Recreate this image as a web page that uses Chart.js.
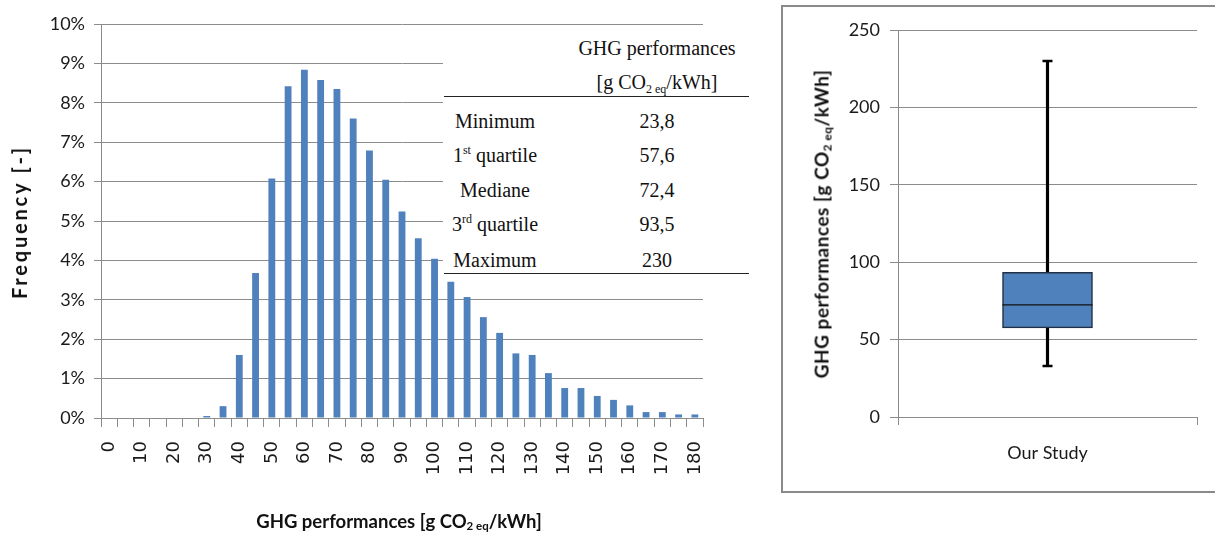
<!DOCTYPE html>
<html>
<head>
<meta charset="utf-8">
<script src="https://cdn.jsdelivr.net/npm/chart.js@4.4.1/dist/chart.umd.min.js"></script>
<style>
  body { margin: 0; background: #fff; width: 1215px; height: 533px; overflow: hidden; position: relative; }
  canvas { position: absolute; }
  .title { position: absolute; white-space: nowrap; color: #111; font-family: Lato, sans-serif; font-weight: bold; transform: translate(-50%, -50%); }
  .title sub { font-size: 62%; vertical-align: -0.25em; }
  .rot { transform: translate(-50%, -50%) rotate(-90deg); }
  #frame { position: absolute; left: 781px; top: 5px; width: 460px; height: 484px; border: 2px solid #8a8a8a; }
  #table { position: absolute; left: 443px; top: 32px; width: 307px; height: 244px; background: #fff; }
  .cell { position: absolute; white-space: nowrap; font-family: 'Liberation Serif', serif; font-size: 20px; color: #111; transform: translate(-50%, -50%); }
  .cell sub { font-size: 60%; vertical-align: -0.3em; }
  .cell sup { font-size: 60%; vertical-align: 0.6em; line-height: 0; }
  .rule { position: absolute; height: 0; border-top: 1.5px solid #222; }
</style>
</head>
<body>
<canvas id="histChart" width="720" height="533" style="left:0;top:0"></canvas>
<div id="frame"></div>
<canvas id="boxChart" width="431" height="484" style="left:782px;top:7px"></canvas>
<div id="table"></div>
<div class="title rot" style="left:19px;top:222px;font-size:20px;letter-spacing:2.8px">Frequency [-]</div>
<div class="title" style="left:399px;top:521px;font-size:18.5px">GHG performances [g CO<sub>2 eq</sub>/kWh]</div>
<div class="title rot" style="left:822px;top:224px;font-size:19px;letter-spacing:0.5px">GHG performances [g CO<sub>2 eq</sub>/kWh]</div>
<script>
// histogram data (bins of 5 g CO2 eq/kWh), frequency in %
const categories = ['0', '5', '10', '15', '20', '25', '30', '35', '40', '45', '50', '55', '60', '65', '70', '75', '80', '85',
    '90', '95', '100', '105', '110', '115', '120', '125', '130', '135', '140', '145', '150', '155', '160', '165', '170', '175', '180'];
const frequency = [0, 0, 0, 0, 0, 0, 0.05, 0.30, 1.60, 3.68, 6.08, 8.42, 8.84, 8.58, 8.35, 7.60, 6.79, 6.05,
    5.24, 4.56, 4.04, 3.46, 3.07, 2.56, 2.16, 1.64, 1.60, 1.14, 0.76, 0.76, 0.56, 0.46, 0.32, 0.15, 0.15, 0.09, 0.09];
const xTickLabels = ['0', '10', '20', '30', '40', '50', '60', '70', '80', '90', '100', '110', '120', '130', '140', '150', '160', '170', '180'];
const yTickLabels = ['0%', '1%', '2%', '3%', '4%', '5%', '6%', '7%', '8%', '9%', '10%'];

// summary table
const tableLabels = ['Minimum', '1st quartile', 'Mediane', '3rd quartile', 'Maximum'];
const tableValues = ['23,8', '57,6', '72,4', '93,5', '230'];

// box plot (as drawn)
const boxCategories = ['Our Study'];
const whiskerLow = [33];
const quartile1 = [57.6];
const median = [72.4];
const quartile3 = [93.5];
const whiskerHigh = [230];
const boxTicks = [0, 50, 100, 150, 200, 250];

const BLUE = '#4f81bd';
const GRID = '#8c8c8c';
const TEXT = '#1a1a1a';

// table overlay
function buildTable() {
    const table = document.getElementById('table');
    const ox = 443, oy = 32;
    function add(html, x, y) {
        const d = document.createElement('div');
        d.className = 'cell';
        d.innerHTML = html;
        d.style.left = (x - ox) + 'px';
        d.style.top = (y - oy) + 'px';
        table.appendChild(d);
    }
    function rule(y) {
        const r = document.createElement('div');
        r.className = 'rule';
        r.style.left = (444 - ox) + 'px';
        r.style.width = '305px';
        r.style.top = (y - oy) + 'px';
        table.appendChild(r);
    }
    add('GHG performances', 657, 48);
    add('[g CO<sub>2 eq</sub>/kWh]', 657, 84);
    rule(96);
    const rowY = [121, 155, 190, 224, 260];
    tableLabels.forEach((label, i) => {
        add(label.replace(/^(\d)(st|rd)/, '$1<sup>$2</sup>'), 495, rowY[i]);
        add(tableValues[i], 657, rowY[i]);
    });
    rule(273);
}
buildTable();

// histogram
new Chart(document.getElementById('histChart'), {
    type: 'bar',
    data: {
        labels: categories,
        datasets: [{
            data: frequency,
            backgroundColor: BLUE,
            barPercentage: 0.42,
            categoryPercentage: 1,
        }],
    },
    options: {
        responsive: false,
        animation: false,
        events: [],
        layout: { autoPadding: false, padding: { top: 24, right: 17, left: 0, bottom: 0 } },
        plugins: { legend: { display: false }, tooltip: { enabled: false } },
        scales: {
            x: {
                afterFit: s => { s.height = 115; s.paddingLeft = 0; s.paddingRight = 0; },
                grid: { display: true, drawOnChartArea: false, color: GRID, tickLength: 9, offset: true },
                border: { color: GRID },
                ticks: {
                    autoSkip: false,
                    minRotation: 90,
                    maxRotation: 90,
                    padding: 14,
                    color: TEXT,
                    font: { family: 'DejaVu Sans', size: 18 },
                    callback: (v, i) => (i % 2 === 0 ? xTickLabels[i / 2] : ''),
                },
            },
            y: {
                min: 0,
                max: 10,
                afterFit: s => { s.width = 101; },
                grid: { color: GRID, tickLength: 7 },
                border: { color: GRID },
                ticks: {
                    stepSize: 1,
                    padding: 9,
                    color: TEXT,
                    font: { family: 'Lato', size: 18 },
                    callback: v => yTickLabels[v],
                },
            },
        },
    },
});

// box plot built from floating bars and point markers
new Chart(document.getElementById('boxChart'), {
    type: 'bar',
    data: {
        labels: boxCategories,
        datasets: [
            {
                data: whiskerLow.map((v, i) => [v, quartile1[i]]),
                backgroundColor: '#000',
                barThickness: 2.5,
                grouped: false,
                order: 3,
            },
            {
                data: quartile3.map((v, i) => [v, whiskerHigh[i]]),
                backgroundColor: '#000',
                barThickness: 2.5,
                grouped: false,
                order: 3,
            },
            {
                data: quartile1.map((v, i) => [v, quartile3[i]]),
                backgroundColor: BLUE,
                borderColor: '#1f2f45',
                borderWidth: 1.5,
                borderSkipped: false,
                barThickness: 90,
                grouped: false,
                order: 2,
            },
            {
                type: 'line',
                data: median,
                showLine: false,
                pointStyle: 'line',
                pointRadius: 45,
                pointBorderWidth: 1.2,
                pointBorderColor: '#111',
                order: 1,
            },
            {
                type: 'line',
                data: whiskerLow,
                showLine: false,
                pointStyle: 'line',
                pointRadius: 5,
                pointBorderWidth: 2.5,
                pointBorderColor: '#000',
                order: 1,
            },
            {
                type: 'line',
                data: whiskerHigh,
                showLine: false,
                pointStyle: 'line',
                pointRadius: 5,
                pointBorderWidth: 2.5,
                pointBorderColor: '#000',
                order: 1,
            },
        ],
    },
    options: {
        responsive: false,
        animation: false,
        events: [],
        layout: { autoPadding: false, padding: { top: 23, right: 16, left: 0, bottom: 0 } },
        plugins: { legend: { display: false }, tooltip: { enabled: false } },
        scales: {
            x: {
                afterFit: s => { s.height = 74; },
                grid: { display: true, drawOnChartArea: false, color: GRID, tickLength: 8, offset: true },
                border: { color: GRID },
                ticks: { padding: 17, color: TEXT, font: { family: 'Lato', size: 18 } },
            },
            y: {
                min: boxTicks[0],
                max: boxTicks[boxTicks.length - 1],
                afterFit: s => { s.width = 116; },
                grid: { color: GRID, tickLength: 8 },
                border: { color: GRID },
                ticks: {
                    stepSize: boxTicks[1] - boxTicks[0],
                    padding: 10,
                    color: TEXT,
                    font: { family: 'Lato', size: 18 },
                },
            },
        },
    },
});
</script>
</body>
</html>
